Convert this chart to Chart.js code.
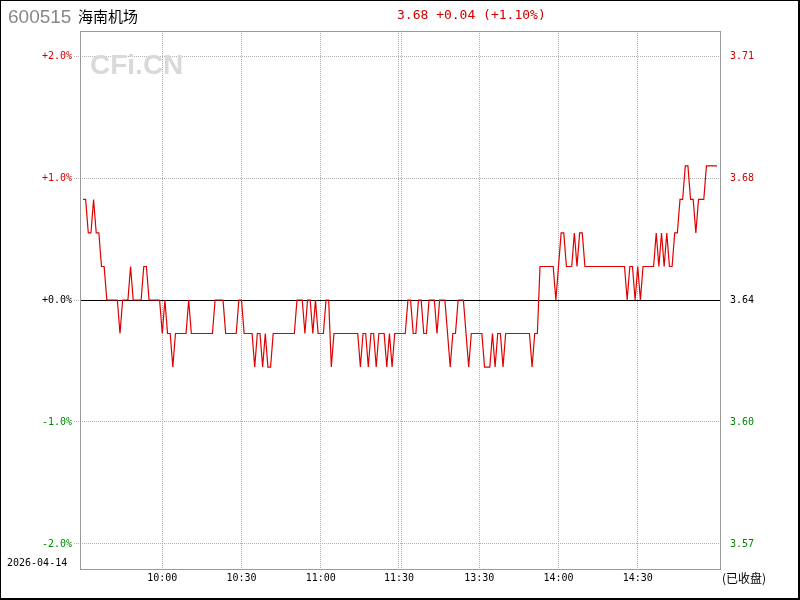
<!DOCTYPE html>
<html>
<head>
<meta charset="utf-8">
<script src="https://cdn.jsdelivr.net/npm/chart.js@4.4.1/dist/chart.umd.min.js"></script>
<style>
  body { margin: 0; background: #fff; }
  #wrap { position: relative; width: 800px; height: 600px; overflow: hidden; }
  #chart { position: absolute; left: 0; top: 0; }
  .t { position: absolute; white-space: nowrap; }
  #frame {
    position: absolute; left: 0; top: 0; width: 800px; height: 600px;
    box-sizing: border-box; border: 1px solid #000;
    border-right-width: 2px; border-bottom-width: 2px;
  }
</style>
</head>
<body>
<div id="wrap">
  <canvas id="chart" width="800" height="600"></canvas>
  <div class="t" style="left:8px;top:7px;font:19px/19px 'Liberation Sans',Arial,sans-serif;color:#888">600515</div>
  <div class="t" style="left:78px;top:8px;font:15px/15px 'Noto Sans CJK SC',sans-serif;color:#000">海南机场</div>
  <div class="t" id="quote" style="left:397px;top:8px;font:13px/13px 'DejaVu Sans Mono',monospace;color:#d00000"></div>
  <div class="t" style="left:90px;top:51px;font:bold 28px/28px 'Liberation Sans',Arial,sans-serif;color:#d9d9d9">CFi.CN</div>
  <div class="t" style="left:7px;top:558px;font:10px/10px 'DejaVu Sans Mono',monospace;color:#000">2026-04-14</div>
  <div class="t" style="left:722px;top:572px;font:12px/12px 'Noto Sans CJK SC',sans-serif;color:#000">(已收盘)</div>
  <div id="frame"></div>
</div>
<script>
// 600515 intraday, one price per minute 9:30-11:30, 13:01-15:00
const prevClose = 3.64;

const prices = [
  3.67, 3.67, 3.66, 3.66, 3.67, 3.66, 3.66, 3.65, 3.65, 3.64,
  3.64, 3.64, 3.64, 3.64, 3.63, 3.64, 3.64, 3.64, 3.65, 3.64,
  3.64, 3.64, 3.64, 3.65, 3.65, 3.64, 3.64, 3.64, 3.64, 3.64,
  3.63, 3.64, 3.63, 3.63, 3.62, 3.63, 3.63, 3.63, 3.63, 3.63,
  3.64, 3.63, 3.63, 3.63, 3.63, 3.63, 3.63, 3.63, 3.63, 3.63,
  3.64, 3.64, 3.64, 3.64, 3.63, 3.63, 3.63, 3.63, 3.63, 3.64,
  3.64, 3.63, 3.63, 3.63, 3.63, 3.62, 3.63, 3.63, 3.62, 3.63,
  3.62, 3.62, 3.63, 3.63, 3.63, 3.63, 3.63, 3.63, 3.63, 3.63,
  3.63, 3.64, 3.64, 3.64, 3.63, 3.64, 3.64, 3.63, 3.64, 3.63,
  3.63, 3.63, 3.64, 3.64, 3.62, 3.63, 3.63, 3.63, 3.63, 3.63,
  3.63, 3.63, 3.63, 3.63, 3.63, 3.62, 3.63, 3.63, 3.62, 3.63,
  3.63, 3.62, 3.63, 3.63, 3.63, 3.62, 3.63, 3.62, 3.63, 3.63,
  3.63, 3.63, 3.63, 3.64, 3.64, 3.63, 3.63, 3.64, 3.64, 3.63,
  3.63, 3.64, 3.64, 3.64, 3.63, 3.64, 3.64, 3.64, 3.63, 3.62,
  3.63, 3.63, 3.64, 3.64, 3.64, 3.63, 3.62, 3.63, 3.63, 3.63,
  3.63, 3.63, 3.62, 3.62, 3.62, 3.63, 3.62, 3.63, 3.63, 3.62,
  3.63, 3.63, 3.63, 3.63, 3.63, 3.63, 3.63, 3.63, 3.63, 3.63,
  3.62, 3.63, 3.63, 3.65, 3.65, 3.65, 3.65, 3.65, 3.65, 3.64,
  3.65, 3.66, 3.66, 3.65, 3.65, 3.65, 3.66, 3.65, 3.66, 3.66,
  3.65, 3.65, 3.65, 3.65, 3.65, 3.65, 3.65, 3.65, 3.65, 3.65,
  3.65, 3.65, 3.65, 3.65, 3.65, 3.65, 3.64, 3.65, 3.65, 3.64,
  3.65, 3.64, 3.65, 3.65, 3.65, 3.65, 3.65, 3.66, 3.65, 3.66,
  3.65, 3.66, 3.65, 3.65, 3.66, 3.66, 3.67, 3.67, 3.68, 3.68,
  3.67, 3.67, 3.66, 3.67, 3.67, 3.67, 3.68, 3.68, 3.68, 3.68,
  3.68
];

// minute index of each time label (11:30 is also the 13:00 break)
const timeIdx = [30, 60, 90, 120, 150, 180, 210];
const timeLabels = ["10:00", "10:30", "11:00", "11:30", "13:30", "14:00", "14:30"];
const breakIdx = 120;

const pctTicks = [-2, -1, 0, 1, 2];
const pctLabels = ["-2.0%", "-1.0%", "+0.0%", "+1.0%", "+2.0%"];
const priceLabels = ["3.57", "3.60", "3.64", "3.68", "3.71"];
const pctRange = 2.205;

const RED = "#d00000";
const GREEN = "#008800";
const GRID = "#b0b0b0";

const yMin = prevClose * (1 - pctRange / 100);
const yMax = prevClose * (1 + pctRange / 100);

function tickColor(i) {
  const p = pctTicks[i];
  return p > 0 ? RED : p < 0 ? GREEN : "#000";
}

function fixY(width) {
  return (s) => {
    s.width = width;
    s.paddingTop = 0;
    s.paddingBottom = 0;
  };
}

function pctTicksFor(s) {
  s.ticks = pctTicks.map((p) => ({ value: prevClose * (1 + p / 100) }));
}

// header quote
const last = prices[prices.length - 1];
const diff = last - prevClose;
const sign = diff >= 0 ? "+" : "-";
document.getElementById("quote").textContent =
  `${last.toFixed(2)} ${sign}${Math.abs(diff).toFixed(2)} (${sign}${Math.abs(diff / prevClose * 100).toFixed(2)}%)`;

const framePlugin = {
  id: "frame",
  beforeDatasetsDraw(chart) {
    const a = chart.chartArea;
    const ctx = chart.ctx;
    ctx.save();
    ctx.strokeStyle = "#999";
    ctx.lineWidth = 1;
    ctx.strokeRect(a.left + 0.5, a.top + 0.5, a.right - a.left, a.bottom - a.top);
    ctx.restore();
  },
};

Chart.defaults.font.family = "'DejaVu Sans Mono', monospace";
Chart.defaults.font.size = 10;
Chart.defaults.color = "#000";

new Chart(document.getElementById("chart"), {
  type: "line",
  data: {
    datasets: [
      {
        data: prices.map((p, i) => ({ x: i, y: p })),
        borderColor: "#e00000",
        borderWidth: 1.2,
        pointRadius: 0,
        tension: 0,
        yAxisID: "y",
      },
    ],
  },
  options: {
    responsive: false,
    animation: false,
    devicePixelRatio: 1,
    layout: { padding: { top: 31, left: 0, right: 0, bottom: 0 } },
    plugins: { legend: { display: false }, tooltip: { enabled: false } },
    scales: {
      x: {
        type: "linear",
        min: -1.14,
        max: 241.14,
        afterBuildTicks: (s) => {
          s.ticks = timeIdx.flatMap((v, i) =>
            v === breakIdx
              ? [{ value: v - 0.4, lbl: timeLabels[i] }, { value: v + 0.4, lbl: "" }]
              : [{ value: v, lbl: timeLabels[i] }]
          );
        },
        afterFit: (s) => {
          s.height = 31;
          s.paddingLeft = 0;
          s.paddingRight = 0;
        },
        ticks: {
          autoSkip: false,
          maxRotation: 0,
          padding: 3,
          color: "#000",
          callback: (v, i, ticks) => ticks[i].lbl,
        },
        grid: { color: GRID, drawTicks: false },
        border: { display: false, dash: [1, 1] },
      },
      y: {
        type: "linear",
        position: "left",
        min: yMin,
        max: yMax,
        afterBuildTicks: pctTicksFor,
        afterFit: fixY(80),
        ticks: {
          autoSkip: false,
          padding: 2,
          color: (ctx) => tickColor(ctx.index),
          callback: (v, i) => pctLabels[i],
        },
        grid: {
          color: (ctx) => (pctTicks[ctx.index] === 0 ? "rgba(0,0,0,0)" : GRID),
          tickColor: GRID,
          tickLength: 6,
          tickBorderDash: [1, 1],
        },
        border: { display: false, dash: [1, 1] },
      },
      yZero: {
        type: "linear",
        position: "left",
        min: yMin,
        max: yMax,
        afterBuildTicks: (s) => {
          s.ticks = [{ value: prevClose }];
        },
        afterFit: fixY(0),
        ticks: { display: false },
        grid: { color: "#000", drawTicks: false },
        border: { display: false },
      },
      y2: {
        type: "linear",
        position: "right",
        min: yMin,
        max: yMax,
        afterBuildTicks: pctTicksFor,
        afterFit: fixY(80),
        ticks: {
          autoSkip: false,
          padding: 2,
          color: (ctx) => tickColor(ctx.index),
          callback: (v, i) => priceLabels[i],
        },
        grid: { display: false },
        border: { display: false },
      },
    },
  },
  plugins: [framePlugin],
});
</script>
</body>
</html>
